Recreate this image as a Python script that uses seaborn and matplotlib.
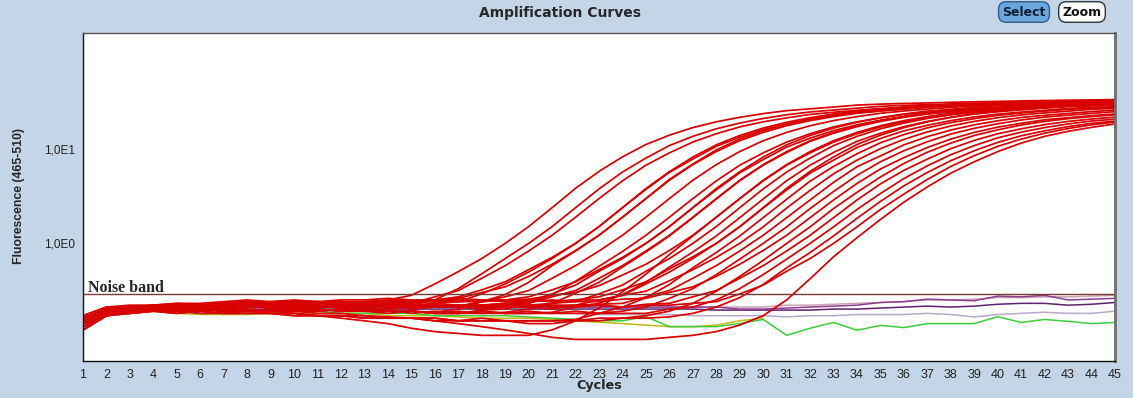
import numpy as np
import pandas as pd
import matplotlib
matplotlib.use('Agg')
import matplotlib.pyplot as plt
import seaborn as sns
from matplotlib.ticker import LogLocator, NullFormatter

sns.set_style('white')
plt.rcParams['font.family'] = ['Liberation Sans', 'DejaVu Sans']

# cycle numbers (x axis)
cycles = list(range(1, 46))

noise_band = 0.289

# ---- amplification curves (red wells), fluorescence per cycle ----
red_01 = [.15,.19,.20,.20,.21,.21,.21,.22,.22,.21,.21,.22,
          .22,.25,.28,.37,.50,.69,1.0,
          1.51,2.4,3.86,5.84,8.34,11.3,14.2,17.1,19.7,22.0,
          24.1,25.9,27.1,28.3,29.7,30.4,30.9,31.3,31.8,32.2,
          32.5,32.9,33.2,33.5,33.7,34.0]
red_02 = [.12,.17,.19,.20,.19,.20,.20,.19,.20,.19,.19,.20,.19,
          .20,.22,.25,.33,.475,.69,1.0,
          1.51,2.4,3.8,5.75,8.1,11.0,13.8,16.6,19.1,21.4,
          23.4,25.1,26.3,27.5,28.8,29.5,30.0,30.4,30.9,31.3,
          31.6,31.9,32.2,32.5,32.7]
red_03 = [.15,.19,.20,.20,.21,.21,.21,.22,.22,.21,.21,.22,.21,
          .225,.23,.27,.315,.425,.58,.83,
          1.22,1.9,3.0,4.63,6.8,9.2,12.0,14.7,17.4,19.7,
          21.7,23.6,24.9,26.1,27.3,28.3,28.9,29.3,29.8,30.2,
          30.6,30.8,31.1,31.4,31.6]
red_04 = [.16,.20,.21,.21,.22,.22,.23,.24,.23,.23,.23,.24,.23,.24,.24,
          .25,.27,.32,.39,.525,.71,1.0,
          1.51,2.4,3.84,5.8,8.3,11.2,14.1,16.9,19.5,21.8,
          23.9,25.6,26.8,28.1,29.4,30.1,30.6,31.0,31.5,31.9,
          32.2,32.6,32.8]
red_05 = [.15,.19,.20,.20,.21,.21,.21,.22,.22,.21,.21,.22,.21,.22,.21,
          .23,.24,.29,.37,.495,.69,1.0,
          1.51,2.4,3.76,5.7,7.9,10.8,13.5,16.3,18.7,21.0,
          22.9,24.6,25.8,27.0,28.2,28.9,29.4,29.8,30.3,30.7,
          31.0,31.3,31.6]
red_06 = [.12,.17,.19,.20,.19,.20,.20,.19,.20,.19,.19,.20,.19,.19,.19,
          .185,.20,.24,.285,.385,.58,.83,
          1.22,1.9,3.0,4.7,6.9,9.5,12.4,15.2,17.9,20.3,
          22.4,24.3,25.7,26.9,28.1,29.2,29.8,30.2,30.7,31.1,
          31.5,31.8,32.1]
red_07 = [.16,.20,.21,.21,.22,.22,.23,.24,.23,.23,.23,.24,.23,.24,.24,
          .245,.26,.30,.345,.445,.60,.84,
          1.22,1.9,3.0,4.8,7.0,9.9,12.9,15.8,18.6,21.1,
          23.3,25.3,26.7,28.0,29.2,30.4,31.0,31.4,31.9,32.3,
          32.8,33.1,33.4]
red_08 = [.15,.19,.20,.20,.21,.21,.21,.22,.22,.21,.21,.22,.21,.22,.21,.22,
          .215,.24,.27,.315,.425,.58,.83,
          1.22,1.9,3.0,4.7,6.9,9.5,12.4,15.2,17.9,20.3,
          22.4,24.3,25.7,26.9,28.1,29.2,29.8,30.2,30.7,31.1,
          31.5,31.8]
red_09 = [.12,.17,.19,.20,.19,.20,.20,.19,.20,.19,.19,.20,.19,.19,.19,.18,.18,
          .195,.20,.23,.285,.395,.57,.82,
          1.22,1.9,3.0,4.63,6.8,9.2,12.0,14.7,17.4,19.7,
          21.7,23.6,24.9,26.1,27.3,28.3,28.9,29.3,29.8,30.2,
          30.6]
red_10 = [.15,.19,.20,.20,.21,.21,.21,.22,.22,.21,.21,.22,.21,.22,.21,.22,.21,.22,
          .23,.24,.29,.36,.505,.69,1.0,
          1.51,2.4,3.84,5.8,8.3,11.2,14.1,16.9,19.5,21.8,
          23.9,25.6,26.8,28.1,29.4,30.1,30.6,31.0,31.5,31.9]
red_11 = [.16,.20,.21,.21,.22,.22,.23,.24,.23,.23,.23,.24,.23,.24,.24,.24,.24,.25,
          .25,.27,.32,.39,.525,.71,1.0,
          1.51,2.4,3.72,5.64,7.8,10.6,13.2,15.9,18.3,20.5,
          22.5,24.1,25.2,26.4,27.6,28.3,28.8,29.2,29.7,30.0]
red_12 = [.14,.18,.20,.21,.21,.20,.21,.21,.22,.22,.21,.21,.22,.22,.21,.21,.22,.21,
          .225,.23,.27,.315,.425,.58,.83,
          1.22,1.9,3.0,4.7,6.9,9.5,12.4,15.2,17.9,20.3,
          22.4,24.3,25.7,26.9,28.1,29.2,29.8,30.2,30.7,31.1]
red_13 = [.13,.18,.19,.19,.20,.19,.20,.20,.19,.20,.20,.19,.19,.20,.18,.19,.18,.18,
          .185,.20,.23,.295,.385,.56,.81,
          1.2,1.88,2.97,4.65,6.8,9.3,12.2,14.9,17.5,19.9,
          22.0,23.8,25.2,26.4,27.5,28.6,29.2,29.6,30.1,30.5]
red_14 = [.17,.21,.22,.22,.23,.23,.24,.25,.24,.25,.24,.25,.25,.26,.25,.25,.26,.25,.25,
          .255,.28,.30,.355,.46,.60,.84,
          1.22,1.9,3.0,4.7,6.9,9.5,12.4,15.2,17.9,20.3,
          22.4,24.3,25.7,26.9,28.1,29.2,29.8,30.2,30.7]
red_15 = [.14,.18,.19,.20,.19,.20,.19,.19,.19,.18,.17,.16,.15,.14,.125,.115,.11,.105,.105,
          .105,.12,.15,.205,.305,.47,.76,
          1.2,1.9,3.0,4.63,6.8,9.2,12.0,14.7,17.4,19.7,
          21.7,23.6,24.9,26.1,27.3,28.3,28.9,29.3,29.8]
red_16 = [.16,.20,.20,.21,.20,.21,.22,.21,.21,.22,.22,.21,.22,.21,.22,.21,.22,.21,.21,.22,
          .23,.24,.29,.36,.505,.69,1.0,
          1.51,2.4,3.8,5.75,8.1,11.0,13.8,16.6,19.1,21.4,
          23.4,25.1,26.3,27.5,28.8,29.5,30.0,30.4]
red_17 = [.12,.17,.19,.20,.19,.20,.20,.19,.20,.19,.19,.20,.19,.19,.19,.18,.18,.19,.18,.18,
          .185,.21,.23,.285,.385,.56,.81,
          1.2,1.88,2.97,4.65,6.8,9.3,12.2,14.9,17.5,19.9,
          22.0,23.8,25.2,26.4,27.5,28.6,29.2,29.6]
red_18 = [.15,.19,.21,.22,.21,.22,.22,.23,.23,.24,.24,.23,.24,.24,.23,.25,.24,.24,.25,.25,.24,
          .25,.27,.32,.39,.535,.72,1.0,
          1.51,2.4,3.86,5.84,8.34,11.3,14.2,17.1,19.7,22.0,
          24.1,25.9,27.1,28.3,29.7,30.4,30.9]
red_19 = [.14,.19,.19,.20,.20,.21,.20,.21,.21,.20,.21,.21,.20,.21,.20,.21,.21,.20,.21,.21,.20,
          .22,.25,.28,.37,.495,.69,1.0,
          1.5,2.38,3.7,5.6,7.7,10.5,13.1,15.8,18.1,20.3,
          22.2,23.8,25.0,26.1,27.4,28.0,28.5]
red_20 = [.13,.17,.18,.19,.18,.19,.18,.18,.18,.17,.17,.17,.16,.16,.16,.16,.15,.15,.15,.15,.15,
          .155,.18,.21,.265,.365,.55,.80,
          1.2,1.88,2.95,4.6,6.6,9.0,11.8,14.4,17.0,19.3,
          21.3,23.1,24.4,25.6,26.7,27.7,28.3]
red_21 = [.17,.21,.21,.22,.23,.22,.23,.23,.24,.24,.24,.23,.24,.25,.24,.25,.25,.24,.25,.25,.24,.25,
          .25,.28,.31,.40,.525,.71,1.0,
          1.5,2.38,3.67,5.5,7.7,10.2,12.8,15.4,17.8,19.9,
          21.8,23.3,24.5,25.6,26.8,27.4]
red_22 = [.15,.20,.20,.21,.21,.22,.21,.21,.22,.23,.22,.22,.23,.22,.22,.23,.22,.22,.23,.22,.22,.22,
          .225,.23,.27,.315,.425,.58,.83,
          1.22,1.88,2.9,4.47,6.55,8.55,11.2,13.7,16.1,18.3,
          20.2,21.9,23.1,24.2,25.3,26.3]
red_23 = [.13,.18,.19,.19,.20,.20,.19,.20,.19,.19,.20,.19,.19,.18,.19,.18,.19,.18,.18,.19,.18,.18,.18,
          .19,.21,.26,.33,.465,.68,1.0,
          1.5,2.35,3.57,5.3,7.4,9.7,12.1,14.6,16.8,18.8,
          20.6,22.1,23.2,24.2,25.3]
red_24 = [.16,.20,.21,.21,.22,.22,.23,.24,.23,.23,.23,.24,.23,.24,.24,.24,.24,.25,.24,.24,.25,.24,.24,
          .255,.26,.30,.345,.445,.60,.84,
          1.22,1.88,2.9,4.35,6.2,8.2,10.5,12.9,15.2,17.3,
          19.0,20.7,21.8,22.9,23.9]
red_25 = [.14,.18,.18,.19,.19,.18,.18,.19,.18,.18,.17,.17,.17,.16,.16,.15,.15,.16,.15,.14,.14,.15,.15,.16,
          .17,.19,.23,.31,.445,.66,1.0,
          1.5,2.35,3.5,5.1,7.1,9.35,11.7,14.1,16.2,18.2,
          19.9,21.3,22.4,23.4]
red_26 = [.15,.19,.20,.20,.21,.21,.21,.22,.22,.21,.21,.22,.21,.22,.21,.22,.21,.22,.22,.21,.22,.21,.22,.21,
          .225,.23,.27,.315,.425,.58,.83,
          1.22,1.88,2.9,4.3,6.0,7.9,10.2,12.5,14.7,16.6,
          18.4,19.9,21.1,22.1]
red_27 = [.12,.17,.19,.20,.19,.20,.20,.19,.20,.19,.19,.20,.19,.19,.19,.18,.18,.19,.18,.18,.18,.19,.18,.18,.18,
          .20,.21,.25,.33,.465,.68,1.0,
          1.5,2.3,3.4,4.9,6.7,8.8,11.0,13.3,15.3,17.1,
          18.7,20.1,21.0]
red_28 = [.13,.17,.18,.19,.18,.19,.18,.18,.18,.17,.17,.17,.16,.16,.16,.16,.15,.15,.15,.15,.15,.15,.16,.16,.16,
          .165,.18,.21,.265,.365,.55,.80,
          1.2,1.85,2.8,4.1,5.7,7.6,9.7,11.9,14.0,15.8,
          17.5,19.0,20.0]
red_29 = [.16,.19,.20,.21,.20,.21,.22,.21,.22,.22,.23,.22,.22,.23,.22,.21,.22,.22,.21,.22,.21,.22,.22,.21,.22,.22,
          .23,.24,.29,.36,.505,.69,1.0,
          1.5,2.3,3.35,4.8,6.6,8.6,10.8,12.9,14.9,16.7,
          18.3,19.6]
red_30 = [.14,.18,.19,.20,.19,.20,.19,.19,.19,
          .19,.18,.18,.17,.165,.16,.15,.14,.13,.12,
          .11,.10,.095,.095,.095,.095,.10,
          .105,.115,.135,.17,.25,.42,.72,
          1.15,1.8,2.75,4.0,5.6,7.4,9.5,11.7,13.8,15.6,
          17.2,18.7]

red_curves = [red_01, red_02, red_03, red_04, red_05, red_06, red_07, red_08, red_09, red_10,
              red_11, red_12, red_13, red_14, red_15, red_16, red_17, red_18, red_19, red_20,
              red_21, red_22, red_23, red_24, red_25, red_26, red_27, red_28, red_29, red_30]

# ---- non amplifying wells ----
green_well = [.13,.17,.19,.19,.19,.18,.18,.18,.18,.19,
              .19,.18,.18,.18,.18,.17,.17,.17,.17,.165,
              .16,.155,.15,.15,.166,.13,.13,.13,.14,.155,
              .105,.125,.144,.119,.134,.127,.14,.14,.14,.166,
              .144,.155,.148,.14,.144]
olive_well = [.12,.17,.18,.19,.18,.175,.175,.175,.18,.18,
              .18,.18,.18,.17,.17,.17,.165,.16,.16,.16,
              .155,.15,.145,.14,.135,.13,.13,.135,.15,.16] + [np.nan] * 15
purple_well = [.15,.19,.20,.20,.21,.20,.21,.21,.21,.21,
               .21,.21,.21,.21,.21,.21,.21,.21,.21,.21,
               .21,.21,.21,.21,.21,.21,.21,.21,.20,.20,
               .205,.21,.215,.22,.235,.24,.255,.25,.245,.275,
               .27,.28,.25,.255,.26]
darkpurple_well = [.15,.19,.20,.20,.20,.20,.20,.20,.20,.20,
                   .20,.20,.20,.20,.20,.20,.20,.20,.20,.20,
                   .20,.20,.20,.20,.20,.20,.20,.195,.195,.195,
                   .195,.195,.20,.20,.205,.21,.215,.21,.215,.225,
                   .23,.23,.22,.225,.235]
lavender_well = [.14,.18,.19,.19,.19,.19,.19,.19,.19,.19,
                 .19,.19,.19,.19,.19,.185,.185,.185,.18,.18,
                 .18,.18,.175,.175,.175,.175,.17,.17,.17,.17,
                 .165,.17,.17,.175,.175,.175,.18,.175,.165,.175,
                 .18,.185,.18,.18,.19]
pink_well = [.15,.19,.20,.20,.21,.21,.21,.21,.21,.21,
             .21,.21,.21,.21,.21,.21,.21,.21,.21,.21,
             .21,.21,.21,.21,.21,.21,.21,.21,.21,.21,
             .22,.22,.225,.23,.235,.24,.25,.25,.255,.265,
             .265,.27,.27,.275,.28]

other_wells = {'pink': pink_well, 'olive': olive_well, 'lavender': lavender_well,
               'darkpurple': darkpurple_well, 'purple': purple_well, 'green': green_well}
other_colors = {'pink': '#C9A3B4', 'olive': '#BDBD10', 'lavender': '#B9A9CC',
                'darkpurple': '#5E2070', 'purple': '#8E3C92', 'green': '#3DCB3D'}

red_rows = []
for i, vals in enumerate(red_curves):
    for c, v in zip(cycles, vals):
        red_rows.append(('r%02d' % i, c, v))
red_df = pd.DataFrame(red_rows, columns=['well', 'cycle', 'fluor'])

other_rows = []
for name, vals in other_wells.items():
    for c, v in zip(cycles, vals):
        other_rows.append((name, c, v))
other_df = pd.DataFrame(other_rows, columns=['well', 'cycle', 'fluor']).dropna()

bg = '#C3D5E6'
fig = plt.figure(figsize=(11.33, 3.98), dpi=100, facecolor=bg)
ax = fig.add_axes([83 / 1133, 1 - 360.7 / 398, (1115 - 83) / 1133, (360.7 - 32.5) / 398])
ax.set_facecolor('white')

# negatives first, red wells drawn over them
sns.lineplot(data=other_df, x='cycle', y='fluor', hue='well', units='well', estimator=None,
             palette=other_colors, lw=1.1, ax=ax, legend=False)
sns.lineplot(data=red_df, x='cycle', y='fluor', units='well', estimator=None,
             color='#D80000', lw=1.25, ax=ax, legend=False)

ax.set_yscale('log')
ax.set_xlim(1, 45)
ax.set_ylim(0.0564, 176)

# noise band
ax.axhline(noise_band, color='#7A3A32', lw=1.0)
ax.annotate('Noise band', xy=(1, noise_band), xytext=(3.5, 1.5), textcoords='offset points',
            va='baseline', ha='left', fontsize=11.5, fontweight='bold',
            family=['Liberation Serif', 'DejaVu Serif'])

# ticks
ax.set_xticks(cycles)
ax.set_xticklabels([str(c) for c in cycles])
ax.set_yticks([1, 10])
ax.set_yticklabels(['1,0E0', '1,0E1'])
ax.yaxis.set_minor_locator(LogLocator(base=10, subs=np.arange(1, 10)))
ax.yaxis.set_minor_formatter(NullFormatter())
ax.tick_params(axis='x', which='major', direction='out', length=4, width=0.8,
               color='#555555', pad=2, labelsize=9, labelcolor='#222222')
ax.tick_params(axis='y', which='major', direction='out', length=5, width=0.8,
               color='#555555', pad=1, labelsize=8.5, labelcolor='#222222')
ax.tick_params(axis='y', which='minor', direction='out', length=4, width=0.8, color='#555555')
ax.set_xlabel('')
ax.set_ylabel('')

for side in ['left', 'bottom']:
    ax.spines[side].set_color('#111111')
    ax.spines[side].set_linewidth(1.0)
ax.spines['top'].set_color('#555555')
ax.spines['top'].set_linewidth(1.0)
ax.spines['right'].set_color('#6E6E6E')
ax.spines['right'].set_linewidth(2.0)

# labels and title
fig.text(560 / 1133, 1 - 13 / 398, 'Amplification Curves', ha='center', va='center',
         fontsize=10, fontweight='bold', family=['DejaVu Sans'])
fig.text(599 / 1133, 1 - 386 / 398, 'Cycles', ha='center', va='center',
         fontsize=9.2, fontweight='bold', family=['DejaVu Sans'])
fig.text(19 / 1133, 1 - 196.5 / 398, 'Fluorescence (465-510)', ha='center', va='center',
         rotation=90, fontsize=8.8, fontweight='bold')

# buttons top right
fig.text(1024 / 1133, 1 - 12 / 398, 'Select', ha='center', va='center', fontsize=9,
         fontweight='bold', color='#10203A', family=['DejaVu Sans'],
         bbox=dict(boxstyle='round,pad=0.3,rounding_size=0.6', fc='#6CA6DC', ec='#2E5C8C', lw=1))
fig.text(1082 / 1133, 1 - 12 / 398, 'Zoom', ha='center', va='center', fontsize=9,
         fontweight='bold', color='#111111', family=['DejaVu Sans'],
         bbox=dict(boxstyle='round,pad=0.3,rounding_size=0.6', fc='white', ec='#333333', lw=1))

fig.savefig('out.png', dpi=100, facecolor=bg)
